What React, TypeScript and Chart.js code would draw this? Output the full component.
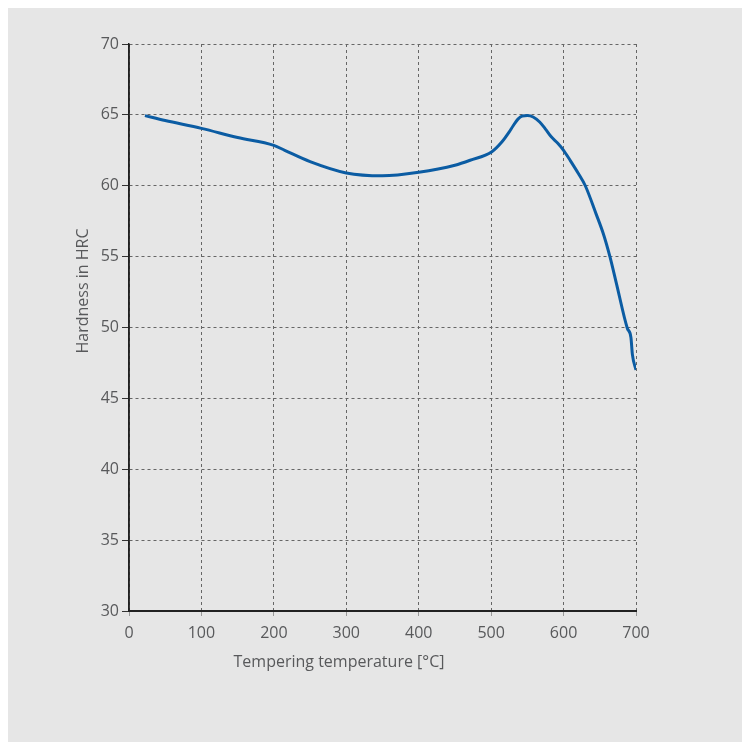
import React, { useEffect, useRef } from "react";
import { Chart, registerables } from "chart.js";

Chart.register(...registerables);

const temps = [22, 50, 100, 150, 200, 215, 250, 300, 350, 400, 450, 471, 501, 515, 525, 530, 537, 543, 550, 558, 567, 575, 583, 592, 600, 609, 620, 630, 645, 655, 664, 673, 688, 693, 695, 700];
const hardness = [64.95, 64.6, 64.05, 63.4, 62.85, 62.5, 61.7, 60.9, 60.7, 60.95, 61.45, 61.8, 62.4, 63.1, 63.8, 64.2, 64.7, 64.92, 64.95, 64.85, 64.5, 64.0, 63.45, 63.0, 62.5, 61.8, 60.9, 60.0, 58.0, 56.6, 55.0, 53.1, 49.95, 49.3, 48.1, 47.0];
const xTicks = [0, 100, 200, 300, 400, 500, 600, 700];
const yTicks = [30, 35, 40, 45, 50, 55, 60, 65, 70];
const xTitle = "Tempering temperature [°C]";
const yTitle = "Hardness in HRC";

const textColor = "#58595b";
const fontFamily = "'Open Sans', sans-serif";

const titlePlugin = {
  id: "customTitles",
  beforeDatasetsDraw(chart: any) {
    const { ctx, chartArea } = chart;
    ctx.save();
    ctx.strokeStyle = "#222";
    ctx.setLineDash([]);
    ctx.lineWidth = 1.5;
    ctx.beginPath();
    ctx.moveTo(chartArea.left, chartArea.top);
    ctx.lineTo(chartArea.left, chartArea.bottom);
    ctx.stroke();
    ctx.lineWidth = 2;
    ctx.beginPath();
    ctx.moveTo(chartArea.left, chartArea.bottom);
    ctx.lineTo(chartArea.right, chartArea.bottom);
    ctx.stroke();
    ctx.restore();
  },
  afterDraw(chart: any) {
    const { ctx, chartArea } = chart;
    ctx.save();
    ctx.fillStyle = textColor;
    ctx.font = `16px ${fontFamily}`;
    ctx.textAlign = "center";
    ctx.textBaseline = "middle";
    ctx.fillText(xTitle, chartArea.left + 210, chartArea.bottom + 51);
    ctx.translate(chartArea.left - 46, chartArea.top + 247);
    ctx.rotate(-Math.PI / 2);
    ctx.fillText(yTitle, 0, 0);
    ctx.restore();
  },
};

export default function App() {
  const ref = useRef<HTMLCanvasElement | null>(null);
  useEffect(() => {
    if (!ref.current) return;
    const chart = new Chart(ref.current, {
      type: "line",
      data: {
        datasets: [
          {
            data: temps.map((t, i) => ({ x: t, y: hardness[i] })),
            borderColor: "#0b5ca3",
            borderWidth: 3,
            pointRadius: 0,
            tension: 0.4,
            cubicInterpolationMode: "monotone",
            fill: false,
          },
        ],
      },
      options: {
        animation: false,
        responsive: false,
        maintainAspectRatio: false,
        layout: { padding: { left: 0, top: 41, right: 106, bottom: 51 } },
        plugins: { legend: { display: false }, tooltip: { enabled: false } },
        scales: {
          x: {
            type: "linear",
            min: 0,
            max: 700,
            afterBuildTicks: (s: any) => {
              s.ticks = xTicks.map((v) => ({ value: v }));
            },
            afterFit: (s: any) => {
              s.height = 80;
            },
            grid: {
              color: "#666",
              lineWidth: 1,
              tickLength: 5,
              tickColor: "#999",
              tickBorderDash: [],
            },
            border: { display: true, color: "#222", width: 2, dash: [3, 3] },
            ticks: {
              color: textColor,
              font: { size: 16, family: fontFamily },
              padding: 8,
              maxRotation: 0,
            },
          },
          y: {
            type: "linear",
            min: 30,
            max: 70,
            afterBuildTicks: (s: any) => {
              s.ticks = yTicks.map((v) => ({ value: v }));
            },
            afterFit: (s: any) => {
              s.width = 121;
            },
            grid: {
              color: "#666",
              lineWidth: 1,
              tickLength: 7,
              tickColor: "#333",
              tickBorderDash: [],
            },
            border: { display: true, color: "#222", width: 1.5, dash: [3, 3] },
            ticks: {
              color: textColor,
              font: { size: 16, family: fontFamily },
              padding: 3,
            },
          },
        },
      },
      plugins: [titlePlugin],
    } as any);
    return () => chart.destroy();
  }, []);

  return (
    <div
      style={{
        position: "relative",
        width: 734,
        height: 739,
        marginTop: -5,
        background: "#e6e6e6",
      }}
    >
      <canvas ref={ref} width={734} height={739} style={{ width: 734, height: 739, display: "block" }} />
    </div>
  );
}
